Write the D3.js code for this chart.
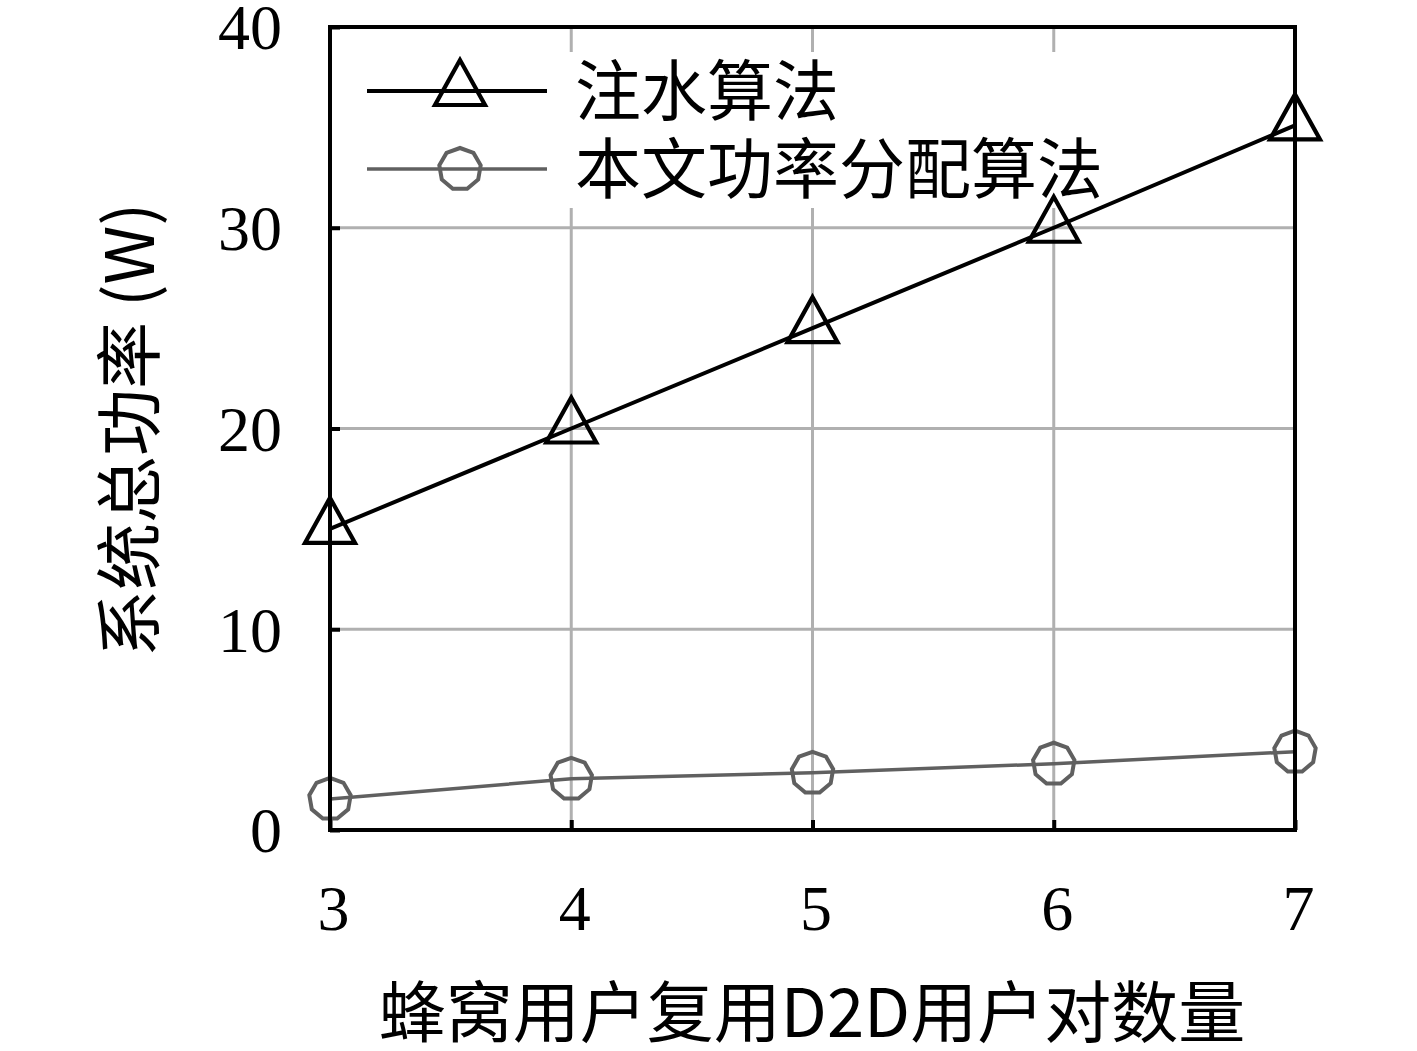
<!DOCTYPE html>
<html><head><meta charset="utf-8">
<script src="https://cdn.jsdelivr.net/npm/d3@7"></script>
<style>body{margin:0;background:#fff}</style>
</head><body>
<svg id="c" width="1417" height="1051"></svg>
<script>
const xValues = [3, 4, 5, 6, 7];
const waterFilling = [15, 20, 25, 30, 35.1];
const proposed = [1.55, 2.55, 2.85, 3.3, 3.9];
const yTicks = [0, 10, 20, 30, 40];
const seriesNames = ["注水算法", "本文功率分配算法"];
const xLabel = "蜂窝用户复用D2D用户对数量";
const yLabel = "系统总功率 (W)";

const svg = d3.select("#c");
const L = 330, R = 1295, T = 27, B = 830;
const x = d3.scaleLinear().domain([3, 7]).range([L, R]);
const y = d3.scaleLinear().domain([0, 40]).range([B, T]);
const serif = "'Liberation Serif', 'DejaVu Serif', serif";
const cjk = "'Noto Sans CJK SC', sans-serif";

// grid
const g = svg.append("g");
g.selectAll(".gx").data(xValues.slice(1, -1)).join("line")
  .attr("x1", d => x(d)).attr("x2", d => x(d)).attr("y1", T).attr("y2", B)
  .attr("stroke", "#b0b0b0").attr("stroke-width", 3);
g.selectAll(".gy").data(yTicks.slice(1, -1)).join("line")
  .attr("y1", d => y(d)).attr("y2", d => y(d)).attr("x1", L).attr("x2", R)
  .attr("stroke", "#b0b0b0").attr("stroke-width", 3);

// axes with inward ticks
const xAxis = d3.axisBottom(x).tickValues(xValues).tickSizeInner(-10).tickSizeOuter(0).tickFormat(d3.format("d"));
const yAxis = d3.axisLeft(y).tickValues(yTicks).tickSizeInner(-10).tickSizeOuter(0);
const gx = svg.append("g").attr("transform", `translate(0,${B})`).call(xAxis);
const gy = svg.append("g").attr("transform", `translate(${L},0)`).call(yAxis);
[gx, gy].forEach(a => {
  a.select(".domain").remove();
  a.selectAll(".tick line").attr("stroke", "#000").attr("stroke-width", 4);
  a.selectAll("text").attr("font-family", serif).attr("font-size", 64).attr("fill", "#000");
});
gx.selectAll("text").attr("dy", null).attr("y", 100).attr("dx", 3);
gy.selectAll("text").attr("x", -48).attr("dy", "0.34em");

// legend background
svg.append("rect").attr("x", 352).attr("y", 52).attr("width", 768).attr("height", 156).attr("fill", "#fff");

// lines
const line = d3.line().x((d, i) => x(xValues[i])).y(d => y(d));
svg.append("path").datum(waterFilling).attr("d", line).attr("fill", "none").attr("stroke", "#000").attr("stroke-width", 4);
svg.append("path").datum(proposed).attr("d", line).attr("fill", "none").attr("stroke", "#606060").attr("stroke-width", 3.5);

// markers
const triPath = "M0,-31L-25,14L25,14Z";
const polyPts = d3.range(9).map(k => { const a = -Math.PI / 2 + k * 2 * Math.PI / 9; return [21 * Math.cos(a), 21 * Math.sin(a)]; });
const polyPath = "M" + polyPts.map(p => p.join(",")).join("L") + "Z";

svg.selectAll(".tri").data(waterFilling).join("path")
  .attr("transform", (d, i) => `translate(${x(xValues[i])},${y(d)})`)
  .attr("d", triPath).attr("fill", "none").attr("stroke", "#000").attr("stroke-width", 4.2);
svg.selectAll(".poly").data(proposed).join("path")
  .attr("transform", (d, i) => `translate(${x(xValues[i])},${y(d)})`)
  .attr("d", polyPath).attr("fill", "none").attr("stroke", "#606060").attr("stroke-width", 4);

// frame
svg.append("rect").attr("x", L).attr("y", T).attr("width", R - L).attr("height", B - T)
  .attr("fill", "none").attr("stroke", "#000").attr("stroke-width", 4);

// legend
const lg = svg.append("g");
const rows = [
  {name: seriesNames[0], color: "#000", w: 4, mw: 4.2, path: triPath, yy: 91},
  {name: seriesNames[1], color: "#606060", w: 3.5, mw: 4, path: polyPath, yy: 169}
];
rows.forEach(r => {
  lg.append("line").attr("x1", 367).attr("x2", 547).attr("y1", r.yy).attr("y2", r.yy)
    .attr("stroke", r.color).attr("stroke-width", r.w);
  lg.append("path").attr("transform", `translate(460,${r.yy})`).attr("d", r.path)
    .attr("fill", "none").attr("stroke", r.color).attr("stroke-width", r.mw);
  lg.append("text").attr("x", 575).attr("y", r.yy).attr("dy", "0.36em")
    .attr("font-family", cjk).attr("font-size", 66).text(r.name);
});

// axis labels
svg.append("text").attr("x", 812).attr("y", 1013).attr("dy", "0.36em")
  .attr("text-anchor", "middle").attr("font-family", cjk).attr("font-size", 67).text(xLabel);
svg.append("text").attr("transform", `translate(130,430) rotate(-90)`).attr("dy", "0.36em")
  .attr("text-anchor", "middle").attr("font-family", cjk).attr("font-size", 67).text(yLabel);
</script>
</body></html>
